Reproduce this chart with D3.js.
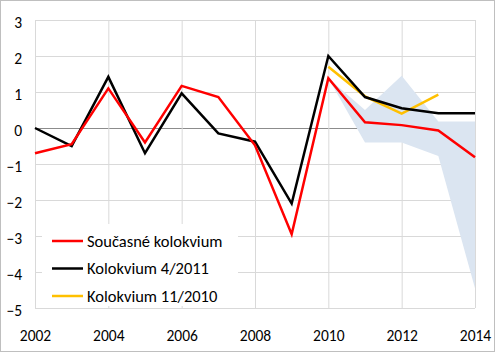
<!DOCTYPE html>
<html>
<head>
<meta charset="utf-8">
<script src="https://cdn.jsdelivr.net/npm/d3@7"></script>
<style>
  body { margin: 0; background: #fff; }
  svg { display: block; }
  .tick text { font-family: Carlito, "Open Sans", sans-serif; font-size: 15.5px; fill: #000; }
</style>
</head>
<body>
<svg class="chart"></svg>
<script>
var years = [2002, 2003, 2004, 2005, 2006, 2007, 2008, 2009, 2010, 2011, 2012, 2013, 2014];
var current = [-0.7, -0.45, 1.1, -0.4, 1.17, 0.86, -0.48, -2.95, 1.38, 0.16, 0.08, -0.07, -0.81];
var col2011 = [0, -0.5, 1.42, -0.7, 0.96, -0.15, -0.38, -2.1, 2.0, 0.86, 0.55, 0.41, 0.41];
var yearsOld = [2010, 2011, 2012, 2013];
var col2010 = [1.7, 0.88, 0.4, 0.93];
var bandYears = [2010, 2011, 2012, 2013, 2014];
var bandHigh = [1.38, 0.5, 1.45, 0.18, 0.18];
var bandLow = [1.38, -0.4, -0.4, -0.78, -4.45];
var yTicks = [3, 2, 1, 0, -1, -2, -3, -4, -5];
var xTicks = [2002, 2004, 2006, 2008, 2010, 2012, 2014];
var names = ["Současné kolokvium", "Kolokvium 4/2011", "Kolokvium 11/2010"];
var colors = ["#ff0000", "#000000", "#ffc000"];

var W = 500, H = 353;
var margin = {top: 20, right: 25, bottom: 45, left: 35},
    width = W - margin.left - margin.right,
    height = H - margin.top - margin.bottom;

var svg = d3.select(".chart").attr("width", W).attr("height", H);

// frame
svg.append("rect")
    .attr("x", 0.5).attr("y", 0.5)
    .attr("width", 494).attr("height", 351)
    .attr("fill", "#fff").attr("stroke", "#bfbfbf");

var chart = svg.append("g")
    .attr("transform", "translate(" + margin.left + "," + margin.top + ")");

var x = d3.scaleLinear().domain([2002, 2014]).range([0, width]);
var y = d3.scaleLinear().domain([-5, 3]).range([height, 0]);

// grid
chart.append("g").selectAll("line")
    .data(yTicks)
  .enter().append("line")
    .attr("x1", 0).attr("x2", width)
    .attr("y1", function(d) { return y(d) + 0.5; })
    .attr("y2", function(d) { return y(d) + 0.5; })
    .attr("stroke", function(d) { return d == 0 ? "#8c8c8c" : "#d9d9d9"; });

chart.append("g").selectAll("line")
    .data(xTicks)
  .enter().append("line")
    .attr("x1", function(d) { return x(d) + 0.5; })
    .attr("x2", function(d) { return x(d) + 0.5; })
    .attr("y1", 0).attr("y2", height)
    .attr("stroke", "#d9d9d9");

// axes, labels only
var yAxis = d3.axisLeft(y).tickValues(yTicks).tickSize(0).tickPadding(13);
chart.append("g").call(yAxis)
    .call(function(g) { g.select(".domain").remove(); g.selectAll(".tick text").attr("dy", "0.5em"); });

var xAxis = d3.axisBottom(x).tickValues(xTicks).tickSize(0).tickPadding(22).tickFormat(d3.format("d"));
chart.append("g")
    .attr("transform", "translate(0," + height + ")")
    .call(xAxis).call(function(g) { g.select(".domain").remove(); });

// uncertainty band
var band = bandYears.map(function(yr, i) { return {year: yr, lo: bandLow[i], hi: bandHigh[i]}; });
chart.append("path")
    .datum(band)
    .attr("fill", "#dbe5f1")
    .attr("d", d3.area()
        .x(function(d) { return x(d.year); })
        .y0(function(d) { return y(d.lo); })
        .y1(function(d) { return y(d.hi); }));

var line = d3.line()
    .x(function(d) { return x(d[0]); })
    .y(function(d) { return y(d[1]); });

var series = [
  d3.zip(yearsOld, col2010),
  d3.zip(years, col2011),
  d3.zip(years, current)
];
var seriesColors = [colors[2], colors[1], colors[0]];

chart.selectAll("path.series")
    .data(series)
  .enter().append("path")
    .attr("class", "series")
    .attr("fill", "none")
    .attr("stroke", function(d, i) { return seriesColors[i]; })
    .attr("stroke-width", 2.5)
    .attr("stroke-linejoin", "miter")
    .attr("d", line);

// legend
var legend = svg.append("g");
legend.append("rect")
    .attr("x", 42).attr("y", 224)
    .attr("width", 196).attr("height", 82)
    .attr("fill", "#fff");

var item = legend.selectAll("g.item")
    .data(names)
  .enter().append("g")
    .attr("class", "item")
    .attr("transform", function(d, i) { return "translate(52," + (241 + i * 27.5) + ")"; });

item.append("line")
    .attr("x1", 0).attr("x2", 31)
    .attr("stroke", function(d, i) { return colors[i]; })
    .attr("stroke-width", 2.5);

item.append("text")
    .attr("x", 35)
    .attr("dy", ".35em")
    .style("font-family", "Carlito, 'Open Sans', sans-serif")
    .style("font-size", "16.5px")
    .text(function(d) { return d; });
</script>
</body>
</html>
